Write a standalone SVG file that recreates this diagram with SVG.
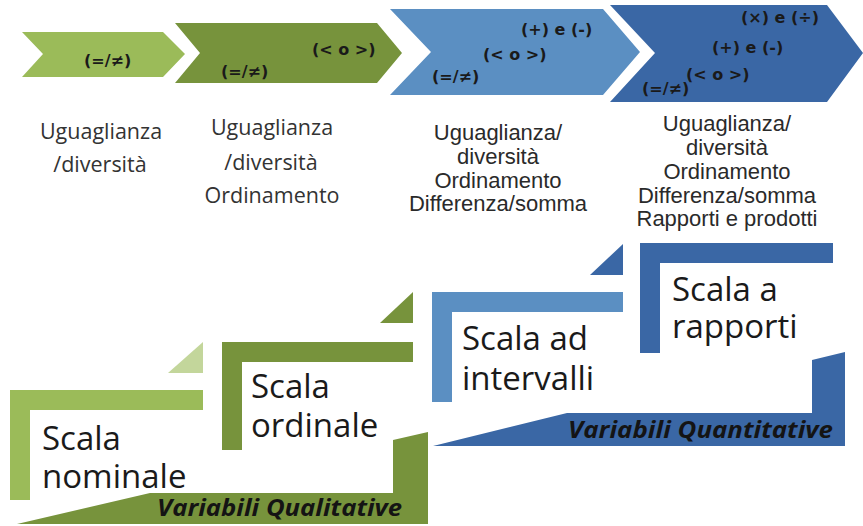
<svg xmlns="http://www.w3.org/2000/svg" width="863" height="526" viewBox="0 0 863 526">
<style>
.chev{font-family:"DejaVu Sans",sans-serif;font-weight:bold;font-size:16px;fill:#1a1a1a}
.lab1{font-family:"Open Sans","Noto Sans",sans-serif;font-size:21.5px;fill:#333;text-anchor:middle}
.lab2{font-family:"Liberation Sans",Arial,sans-serif;font-size:22px;fill:#2a2a2a;text-anchor:middle}
.big{font-family:"Open Sans","Noto Sans",sans-serif;font-size:33px;fill:#1a1a1a}
.var{font-family:"Open Sans","Noto Sans",sans-serif;font-size:23px;font-weight:bold;font-style:italic;fill:#141414}
.g1{fill:#9bbb59}.g1l{fill:#c3d69b}.g2{fill:#77933c}.b1{fill:#5b8fc2}.b2{fill:#3a67a5}
</style>
<rect width="863" height="526" fill="#ffffff"/>
<g id="chevron-nominale">
<polygon class="g1" points="22,32 163,32 185,54 163,77 22,77 43,54"/>
<text class="chev" x="84" y="66">(=/≠)</text>
</g>
<g id="chevron-ordinale">
<polygon class="g2" points="175,23 377,23 402,53 377,83 175,83 200,53"/>
<text class="chev" x="221" y="77">(=/≠)</text>
<text class="chev" x="312" y="55">(&lt; o &gt;)</text>
</g>
<g id="chevron-intervalli">
<polygon class="b1" points="390,9 603,9 640,52 603,95 390,95 431,52"/>
<text class="chev" x="521" y="35">(+) e (-)</text>
<text class="chev" x="483" y="60">(&lt; o &gt;)</text>
<text class="chev" x="432" y="82">(=/≠)</text>
</g>
<g id="chevron-rapporti">
<polygon class="b2" points="610,5 827,5 863,53 827,102 610,102 655,53"/>
<text class="chev" x="741" y="23">(×) e (÷)</text>
<text class="chev" x="712" y="53">(+) e (-)</text>
<text class="chev" x="686" y="80">(&lt; o &gt;)</text>
<text class="chev" x="642" y="94">(=/≠)</text>
</g>
<g id="label-nominale">
<text class="lab1" x="101" y="139">Uguaglianza</text>
<text class="lab1" x="100" y="172">/diversità</text>
</g>
<g id="label-ordinale">
<text class="lab1" x="272" y="135">Uguaglianza</text>
<text class="lab1" x="271" y="170">/diversità</text>
<text class="lab1" x="272" y="203">Ordinamento</text>
</g>
<g id="label-intervalli">
<text class="lab2" x="498" y="140">Uguaglianza/</text>
<text class="lab2" x="498" y="164">diversità</text>
<text class="lab2" x="498" y="188">Ordinamento</text>
<text class="lab2" x="498" y="211">Differenza/somma</text>
</g>
<g id="label-rapporti">
<text class="lab2" x="727" y="131">Uguaglianza/</text>
<text class="lab2" x="727" y="155">diversità</text>
<text class="lab2" x="727" y="179">Ordinamento</text>
<text class="lab2" x="727" y="203">Differenza/somma</text>
<text class="lab2" x="727" y="226">Rapporti e prodotti</text>
</g>
<g id="step-nominale">
<path class="g1" d="M10,390 H203 V410 H30 V500 H10 Z"/>
<polygon class="g1l" points="168,373 203,342 203,373"/>
<text class="big" x="42" y="450">Scala<tspan x="42" dy="38">nominale</tspan></text>
</g>
<g id="step-ordinale">
<path class="g2" d="M222,342 H413 V362 H242 V450 H222 Z"/>
<polygon class="g2" points="380,323 413,292 413,323"/>
<text class="big" x="251" y="398">Scala<tspan x="251" dy="39">ordinale</tspan></text>
</g>
<g id="band-qualitative">
<path class="g2" d="M17,524 L150,493 H393 V440 L428,432 V524 Z"/>
<text class="var" x="157" y="516" textLength="245" lengthAdjust="spacingAndGlyphs">Variabili Qualitative</text>
</g>
<g id="step-intervalli">
<path class="b1" d="M432,292 H623 V312 H452 V402 H432 Z"/>
<polygon class="b2" points="590,275 623,244 623,275"/>
<text class="big" x="462" y="350">Scala ad<tspan x="462" dy="40">intervalli</tspan></text>
</g>
<g id="step-rapporti">
<path class="b2" d="M640,243 H833 V263 H660 V353 H640 Z"/>
<text class="big" x="672" y="301">Scala a<tspan x="672" dy="37">rapporti</tspan></text>
</g>
<g id="band-quantitative">
<path class="b2" d="M433,446 L567,413 H812 V360 L845,352 V446 Z"/>
<text class="var" x="568" y="438" textLength="265" lengthAdjust="spacingAndGlyphs">Variabili Quantitative</text>
</g>
<g id="connectors"/>
</svg>
